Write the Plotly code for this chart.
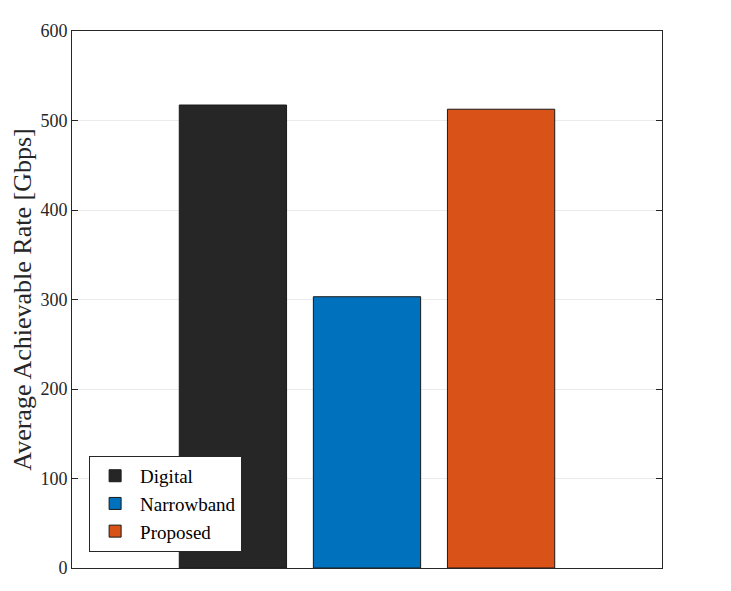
import plotly.graph_objects as go

# bar data
schemes = ['Digital', 'Narrowband', 'Proposed']
rates = [517.3, 303.1, 512.6]
colors = ['#262626', '#0072BD', '#D95319']

fig = go.Figure()
for name, val, col in zip(schemes, rates, colors):
    fig.add_trace(go.Bar(
        x=[name], y=[val], name=name, width=0.8,
        marker=dict(color=col, line=dict(color='#1a1a1a', width=1)),
    ))

font = 'Liberation Serif, DejaVu Serif, serif'
# page body adds an 8px offset, so margins are shifted to compensate
fig.update_layout(
    width=731, height=591,
    margin=dict(l=64, r=77, t=23, b=31),
    paper_bgcolor='white', plot_bgcolor='white',
    barmode='overlay',
    font=dict(family=font, color='#262626', size=18),
    showlegend=True,
    legend=dict(
        x=0.029, y=0.03, xanchor='left', yanchor='bottom',
        bgcolor='white', bordercolor='#262626', borderwidth=1,
        font=dict(size=19, family=font, color='black'),
        itemwidth=40, tracegroupgap=0,
    ),
)
fig.update_xaxes(
    type='category', range=[-1.2, 3.2], showticklabels=False,
    showline=True, linecolor='#262626', linewidth=1, mirror=True,
    ticks='', showgrid=False, zeroline=False,
)
fig.update_yaxes(
    range=[0, 600], dtick=100, tick0=0, automargin=False,
    title=dict(text='Average Achievable Rate [Gbps]', font=dict(size=26), standoff=8),
    showline=True, linecolor='#262626', linewidth=1, mirror='ticks',
    ticks='inside', ticklen=6, tickcolor='#262626',
    showgrid=True, gridcolor='#ebebeb', gridwidth=1, zeroline=False,
    tickfont=dict(size=18),
)

fig.write_html("out.html")
